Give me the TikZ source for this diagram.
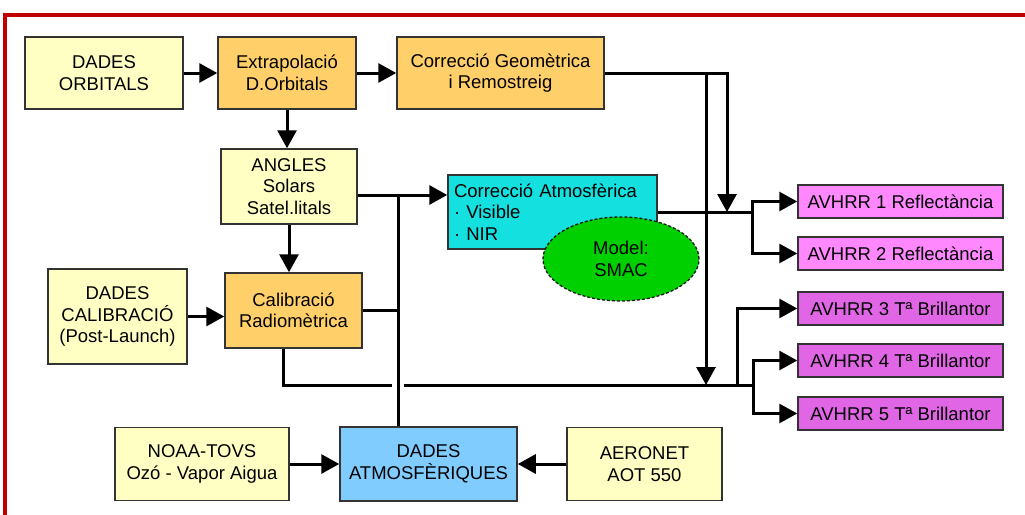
\documentclass[tikz,border=0pt]{standalone}
\usepackage{fontspec}
\setmainfont{Liberation Sans}
\usepackage{xcolor}
\usepackage{tikz}
\usetikzlibrary{positioning, arrows.meta, shapes.geometric}

\definecolor{dadesyellow}{HTML}{FFFFC4}
\definecolor{procorange}{HTML}{FFD06A}
\definecolor{atmcyan}{HTML}{14E0E0}
\definecolor{atmblue}{HTML}{80CCFF}
\definecolor{smacgreen}{HTML}{00CF00}
\definecolor{reflpink}{HTML}{FF88FF}
\definecolor{brightpink}{HTML}{E066E6}
\definecolor{framered}{HTML}{C00000}

\begin{document}
\begin{tikzpicture}[x=1pt, y=1pt,
        font=\fontsize{18.5}{21.5}\selectfont,
        box/.style={draw=black!80, line width=1.5pt, rectangle, align=center, inner sep=2pt},
        databox/.style={box, fill=dadesyellow},
        procbox/.style={box, fill=procorange},
        outbox/.style={box, minimum width=205pt, minimum height=33pt},
        modelblob/.style={ellipse, draw=black!90, densely dashed, line width=1.3pt, fill=smacgreen, align=center, inner sep=0pt},
        wire/.style={line width=3pt},
        flow/.style={line width=3pt, -{Triangle[length=18pt, width=19pt]}}]
        \useasboundingbox (0,0) rectangle (1025,-514);
        % Frame
        \draw[framered, line width=4pt] (5,-520) -- (5,-15) -- (1030,-15);

        % Nodes
        \node (orbitals) [databox, minimum width=158pt, minimum height=72pt] at (104,-73) {DADES\\ORBITALS};
        \node (extrap) [procbox, right of=orbitals, node distance=183pt, minimum width=138pt, minimum height=72pt] {Extrapolació\\D.Orbitals};
        \node (geom) [procbox, right of=extrap, node distance=213.5pt, minimum width=207pt, minimum height=72pt] {Correcció Geomètrica\\i Remostreig};
        \node (angles) [databox, below of=extrap, node distance=113.5pt, xshift=2pt, minimum width=136pt, minimum height=75pt] {ANGLES\\Solars\\Satel.litals};
        \node (calib) [procbox, below of=angles, node distance=124pt, xshift=4.5pt, minimum width=137pt, minimum height=75pt] {Calibració\\Radiomètrica};
        \node (calibdata) [databox, left of=calib, node distance=176pt, yshift=-6pt, minimum width=139pt, minimum height=95pt] {DADES\\CALIBRACIÓ\\(Post-Launch)};
        \node (coratm) [box, fill=atmcyan, align=left, right of=angles, node distance=263.5pt, yshift=-25.5pt, minimum width=209pt, minimum height=74pt, text width=197pt] {Correcció Atmosfèrica\\· Visible\\· NIR};
        \node (smac) [modelblob, minimum width=156pt, minimum height=84pt] at (621,-259) {Model:\\SMAC};
        \node (atmdata) [box, fill=atmblue, minimum width=177pt, minimum height=74pt] at (428.5,-464) {DADES\\ATMOSFÈRIQUES};
        \node (noaa) [databox, left of=atmdata, node distance=226.5pt, minimum width=174pt, minimum height=73pt] {NOAA-TOVS\\Ozó - Vapor Aigua};
        \node (aeronet) [databox, right of=atmdata, node distance=216pt, minimum width=155pt, minimum height=73pt] {AERONET\\AOT 550};

        \node (av1) [outbox, fill=reflpink] at (900.5,-201.5) {AVHRR 1 Reflectància};
        \node (av2) [outbox, fill=reflpink, below of=av1, node distance=52pt] {AVHRR 2 Reflectància};
        \node (av3) [outbox, fill=brightpink, below of=av2, node distance=55pt] {AVHRR 3 Tª Brillantor};
        \node (av4) [outbox, fill=brightpink, below of=av3, node distance=52pt] {AVHRR 4 Tª Brillantor};
        \node (av5) [outbox, fill=brightpink, below of=av4, node distance=53pt] {AVHRR 5 Tª Brillantor};

        % Junctions
        \coordinate (j1) at (398,-195);
        \coordinate (c1) at (283,-385);
        \coordinate (j2) at (753,-385);
        \coordinate (j3) at (706,-385);
        \coordinate (j4) at (727,-212);
        \coordinate (j5) at (752,-212);
        \coordinate (j6) at (737,-385);

        % Arrows
        \draw[flow] (orbitals) -- (extrap);
        \draw[flow] (extrap) -- (geom);
        \draw[flow] (extrap.south) -- (extrap.south |- angles.north);
        \draw[flow] (angles.south) -- (angles.south |- calib.north);
        \draw[flow] (calibdata) -- (calibdata -| calib.west);
        \draw[flow] (noaa) -- (noaa -| atmdata.west);
        \draw[flow] (aeronet) -- (aeronet -| atmdata.east);

        \draw[wire] (angles.east |- j1) -- (j1);
        \draw[flow] (j1) -- (j1 -| coratm.west);
        \draw[wire] (calib.east) -- (calib.east -| j1);
        \draw[wire] (c1 |- calib.south) -- (c1) -- ([xshift=-6pt]j1 |- c1);
        \draw[wire] ([xshift=6pt]j1 |- c1) -- (j2);
        \draw[wire] (atmdata.north -| j1) -- (j1);

        \draw[flow] (geom.east) -| (j4);
        \draw[flow] (geom.east -| j3) -- (j3);
        \draw[wire] (coratm.east) -- (j5);
        \draw[flow] (j5) |- (av1);
        \draw[flow] (j5) |- (av2);
        \draw[flow] (j6) |- (av3);
        \draw[flow] (j2) |- (av4);
        \draw[flow] (j2) |- (av5);
    \end{tikzpicture}
\end{document}
